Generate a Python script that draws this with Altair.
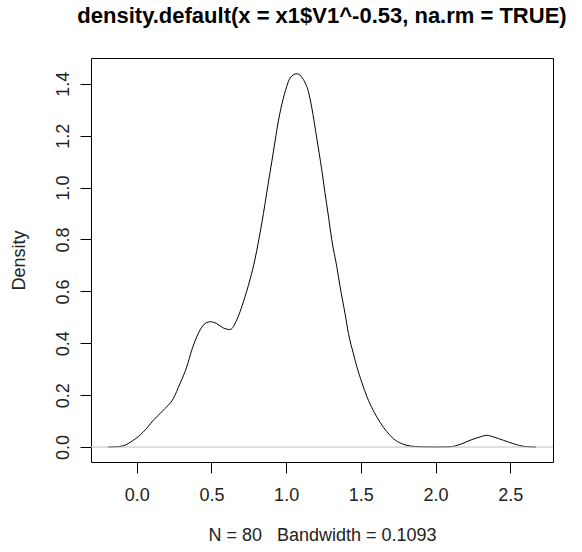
import altair as alt
import pandas as pd

# Density curve
x_vals = [-0.19, -0.138, -0.089, -0.023, 0.044, 0.111, 0.178, 0.245, 0.290, 0.335,
          0.368, 0.402, 0.446, 0.491, 0.535, 0.580, 0.625, 0.669, 0.714, 0.758,
          0.792, 0.814, 0.848, 0.870, 0.904, 0.926, 0.949, 0.971, 1.004, 1.026,
          1.071, 1.116, 1.149, 1.171, 1.205, 1.238, 1.260, 1.283, 1.305, 1.339,
          1.361, 1.394, 1.417, 1.450, 1.473, 1.506, 1.540, 1.584, 1.629, 1.673,
          1.718, 1.774, 1.830, 1.90, 2.00, 2.097, 2.164, 2.231, 2.298, 2.343,
          2.387, 2.454, 2.521, 2.60, 2.672]
density_vals = [0.000, 0.001, 0.005, 0.026, 0.058, 0.103, 0.142, 0.187, 0.245, 0.309,
                0.373, 0.425, 0.470, 0.483, 0.476, 0.459, 0.453, 0.489, 0.560, 0.645,
                0.725, 0.790, 0.900, 0.980, 1.100, 1.180, 1.260, 1.320, 1.390, 1.422,
                1.439, 1.416, 1.370, 1.310, 1.190, 1.070, 0.980, 0.890, 0.800, 0.695,
                0.618, 0.515, 0.438, 0.360, 0.310, 0.250, 0.195, 0.140, 0.095, 0.060,
                0.032, 0.013, 0.004, 0.001, 0.000, 0.001, 0.010, 0.026, 0.039, 0.045,
                0.039, 0.026, 0.013, 0.002, 0.000]

x_ticks = [0.0, 0.5, 1.0, 1.5, 2.0, 2.5]
y_ticks = [0.0, 0.2, 0.4, 0.6, 0.8, 1.0, 1.2, 1.4]
x_domain = [-0.306, 2.786]
y_domain = [-0.0577, 1.4996]

title_text = "density.default(x = x1$V1^-0.53, na.rm = TRUE)"
x_title = "N = 80\u00a0\u00a0\u00a0Bandwidth = 0.1093"
y_title = "Density"

df = pd.DataFrame({"x": x_vals, "y": density_vals})

FONT = "Liberation Sans"
W, H = 462, 404

line = alt.Chart(df).mark_line(color="black", strokeWidth=1, interpolate="monotone").encode(
    x=alt.X("x:Q",
            scale=alt.Scale(domain=x_domain, nice=False, zero=False),
            axis=alt.Axis(values=x_ticks, format=".1f", title=x_title,
                          grid=False, domain=False, tickColor="black", tickSize=11,
                          labelFont=FONT, labelFontSize=18, labelColor="#222",
                          labelPadding=13, labelFlush=False,
                          titleFont=FONT, titleFontSize=18, titleFontWeight="normal",
                          titleColor="#222", titleX=W / 2, titleY=73,
                          titleBaseline="middle", titleAlign="center")),
    y=alt.Y("y:Q",
            scale=alt.Scale(domain=y_domain, nice=False, zero=False),
            axis=alt.Axis(values=y_ticks, format=".1f", title=y_title,
                          grid=False, domain=False, tickColor="black", tickSize=11,
                          labelFont=FONT, labelFontSize=18, labelColor="#222",
                          labelAngle=270, labelAlign="center", labelBaseline="alphabetic",
                          labelPadding=12, labelFlush=False,
                          titleFont=FONT, titleFontSize=18, titleFontWeight="normal",
                          titleColor="#222", titleAngle=270, titleX=-72, titleY=H / 2,
                          titleBaseline="middle", titleAlign="center")),
)

zero = alt.Chart(pd.DataFrame({"y": [0.0]})).mark_rule(color="#bebebe", strokeWidth=1).encode(
    y=alt.Y("y:Q")
)

chart = alt.layer(line, zero).properties(
    width=W, height=H,
    title=alt.TitleParams(title_text, font=FONT, fontSize=22, fontWeight="bold",
                          color="black", anchor="middle", frame="group",
                          baseline="alphabetic", offset=13),
    padding={"left": 91, "top": 58, "right": 29, "bottom": 90},
    autosize=alt.AutoSizeParams(type="none"),
).configure(background="white").configure_view(stroke="black", strokeWidth=1)

chart.save("out.html", embed_options={"renderer": "svg", "actions": False})
